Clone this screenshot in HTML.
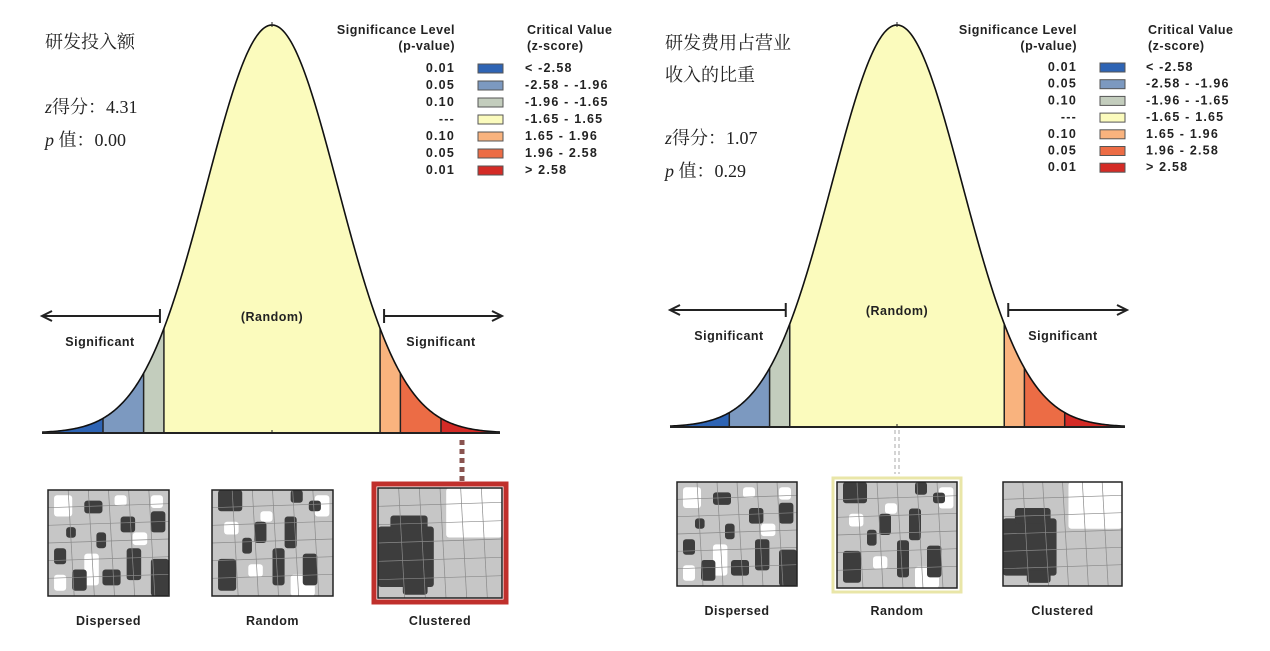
<!DOCTYPE html>
<html><head><meta charset="utf-8">
<style>
html,body{margin:0;padding:0;background:#fff;}
svg{display:block;}
text{font-family:"Liberation Sans","DejaVu Sans",sans-serif;}
.cn{font-family:"Liberation Serif","Noto Serif CJK SC","Noto Sans CJK SC",serif;font-size:18px;fill:#222;}
.b{font-weight:bold;font-size:12.5px;fill:#222;letter-spacing:0.5px;}
.v{letter-spacing:1.2px;}
</style></head>
<body>
<svg id="chart" width="1270" height="651" viewBox="0 0 1270 651"></svg>
<script>
// ---- data ----
const zBreaks = [-2.58, -1.96, -1.65, 1.65, 1.96, 2.58];
const zoneColors = ["#2e64b4", "#7c99c0", "#c3cdbd", "#fbfbbd", "#f9b37e", "#ec6c45", "#d42b26"];
const pLabels = ["0.01", "0.05", "0.10", "---", "0.10", "0.05", "0.01"];
const critLabels = ["< -2.58", "-2.58 - -1.96", "-1.96 - -1.65", "-1.65 - 1.65", " 1.65 - 1.96", " 1.96 - 2.58", " > 2.58"];
const zScores = [4.31, 1.07];
const pValues = ["0.00", "0.29"];
const panelTitles = [["研发投入额"], ["研发费用占营业", "收入的比重"]];
const mapLabels = ["Dispersed", "Random", "Clustered"];

const NS = "http://www.w3.org/2000/svg";
const svg = document.getElementById("chart");
function el(tag, attrs, parent) {
  const e = document.createElementNS(NS, tag);
  for (const k in attrs) e.setAttribute(k, attrs[k]);
  (parent || svg).appendChild(e);
  return e;
}
function pdf(z) { return Math.exp(-z * z / 2); }

const panels = [
  {cx: 272, base: 433, peak: 25, ppu: 65.5, x0: 42, x1: 500, arrowY: 316, sigY: 342, sigL: 100, sigR: 441,
   legX: 455, legY0: 68, legStep: 17, swX: 478, valX: 525, titleX: 45, titleY: [42], zY: 107, pY: 140,
   maps: [[48, 490, 121, 106], [212, 490, 121, 106], [378, 488, 124, 110]], mapLabY: 621, hi: 2, hiColor: "#c0302c", dotX: 462, dotY0: 440, dotY1: 484, dotColor: "#8a5450"},
  {cx: 897, base: 427, peak: 25, ppu: 65, x0: 670, x1: 1125, arrowY: 310, sigY: 336, sigL: 729, sigR: 1063,
   legX: 1077, legY0: 67, legStep: 16.7, swX: 1100, valX: 1146, titleX: 665, titleY: [43, 75], zY: 138, pY: 171,
   maps: [[677, 482, 120, 104], [837, 482, 120, 106], [1003, 482, 119, 104]], mapLabY: 611, hi: 1, hiColor: "#e9e6a8", dotX: 897, dotY0: 430, dotY1: 474, dotColor: "#999"}
];

const mapDark = [
  [[0.3,0.1,0.15,0.12],[0.6,0.25,0.12,0.15],[0.85,0.2,0.12,0.2],[0.05,0.55,0.1,0.15],[0.4,0.4,0.08,0.15],[0.65,0.55,0.12,0.3],[0.2,0.75,0.12,0.2],[0.45,0.75,0.15,0.15],[0.85,0.65,0.15,0.35],[0.15,0.35,0.08,0.1]],
  [[0.05,0,0.2,0.2],[0.65,0,0.1,0.12],[0.8,0.1,0.1,0.1],[0.35,0.3,0.1,0.2],[0.6,0.25,0.1,0.3],[0.05,0.65,0.15,0.3],[0.5,0.55,0.1,0.35],[0.75,0.6,0.12,0.3],[0.25,0.45,0.08,0.15]],
  [[0,0.35,0.45,0.55],[0.1,0.25,0.3,0.15],[0.2,0.85,0.2,0.12]]
];
const mapWhite = [
  [[0.05,0.05,0.15,0.2],[0.85,0.05,0.1,0.12],[0.7,0.4,0.12,0.12],[0.3,0.6,0.12,0.3],[0.05,0.8,0.1,0.15],[0.55,0.05,0.1,0.1]],
  [[0.85,0.05,0.12,0.2],[0.1,0.3,0.12,0.12],[0.4,0.2,0.1,0.1],[0.65,0.8,0.2,0.2],[0.3,0.7,0.12,0.12]],
  [[0.55,0,0.45,0.45]]
];

panels.forEach((P, pi) => {
  const g = el("g", {});
  
  
  const X = z => P.cx + z * P.ppu;
  const Y = z => P.base - (P.base - P.peak) * pdf(z);
  const zMin = (P.x0 - P.cx) / P.ppu, zMax = (P.x1 - P.cx) / P.ppu;
  const edges = [zMin].concat(zBreaks, [zMax]);
  for (let i = 0; i < edges.length - 1; i++) {
    let d = "M" + X(edges[i]) + "," + P.base;
    for (let k = 0; k <= 60; k++) { const z = edges[i] + (edges[i + 1] - edges[i]) * k / 60; d += " L" + X(z).toFixed(2) + "," + Y(z).toFixed(2); }
    d += " L" + X(edges[i + 1]) + "," + P.base + " Z";
    const zone = el("path", {d: d, fill: zoneColors[i], stroke: "none"}, g);
    
    
  }
  zBreaks.forEach((z, i) => {
    const ln = el("line", {x1: X(z), x2: X(z), y1: P.base, y2: Y(z), stroke: "#222", "stroke-width": 1.5}, g);
    
    
  });
  let d = "";
  for (let k = 0; k <= 300; k++) { const z = zMin + (zMax - zMin) * k / 300; d += (k ? " L" : "M") + X(z).toFixed(2) + "," + Y(z).toFixed(2); }
  const curve = el("path", {d: d, fill: "none", stroke: "#111", "stroke-width": 1.6}, g);
  
  
  const base = el("line", {x1: P.x0, x2: P.x1, y1: P.base, y2: P.base, stroke: "#222", "stroke-width": 2}, g);
  
  
  el("line", {x1: P.cx, x2: P.cx, y1: P.base - 3, y2: P.base, stroke: "#222"}, g);
  el("line", {x1: P.cx, x2: P.cx, y1: P.peak - 3, y2: P.peak + 2, stroke: "#222"}, g);
  const xl = X(-1.65) - 4, xr = X(1.65) + 4;
  [[xl, P.x0], [xr, P.x1 + 2]].forEach(([a, b], k) => {
    const ag = el("g", {}, g);
    
    
    el("line", {x1: a, x2: b, y1: P.arrowY, y2: P.arrowY, stroke: "#222", "stroke-width": 2}, ag);
    el("line", {x1: a, x2: a, y1: P.arrowY - 7, y2: P.arrowY + 7, stroke: "#222", "stroke-width": 2}, ag);
    const s = b > a ? -1 : 1;
    el("path", {d: `M${b + s * 10},${P.arrowY - 5} L${b},${P.arrowY} L${b + s * 10},${P.arrowY + 5}`, fill: "none", stroke: "#222", "stroke-width": 2}, ag);
  });
  const t1 = el("text", {x: P.sigL, y: P.sigY + 4, "text-anchor": "middle", class: "b"}, g); t1.textContent = "Significant";
   
  const t2 = el("text", {x: P.sigR, y: P.sigY + 4, "text-anchor": "middle", class: "b"}, g); t2.textContent = "Significant";
   
  const t3 = el("text", {x: P.cx, y: P.arrowY + 5, "text-anchor": "middle", class: "b"}, g); t3.textContent = "(Random)";
   
  P.titleY.forEach((ty, i) => {
    const t = el("text", {x: P.titleX, y: ty + 6, class: "cn"}, g); t.textContent = panelTitles[pi][i];
     
  });
  const zt = el("text", {x: P.titleX, y: P.zY + 6, class: "cn"}, g);
  zt.innerHTML = '<tspan font-style="italic">z</tspan>得分：' + zScores[pi].toFixed(2);
   
  const pt = el("text", {x: P.titleX, y: P.pY + 6, class: "cn"}, g);
  pt.innerHTML = '<tspan font-style="italic">p</tspan> 值：' + pValues[pi];
   
  const lg = el("g", {}, g);
   
  const h1 = el("text", {x: P.legX, y: 34, "text-anchor": "end", class: "b"}, lg); h1.textContent = "Significance Level";
  const h2 = el("text", {x: P.legX, y: 50, "text-anchor": "end", class: "b"}, lg); h2.textContent = "(p-value)";
  const h3 = el("text", {x: P.valX + 2, y: 34, class: "b"}, lg); h3.textContent = "Critical Value";
  const h4 = el("text", {x: P.valX + 2, y: 50, class: "b"}, lg); h4.textContent = "(z-score)";
  pLabels.forEach((p, i) => {
    const y = P.legY0 + i * P.legStep;
    const e = el("g", {}, lg);
     
    const a = el("text", {x: P.legX, y: y + 4, "text-anchor": "end", class: "b v"}, e); a.textContent = p;
    el("rect", {x: P.swX, y: y - 4, width: 25, height: 9, fill: zoneColors[i], stroke: "#555", "stroke-width": 1}, e);
    const c = el("text", {x: P.valX, y: y + 4, class: "b v", "xml:space": "preserve"}, e); c.textContent = critLabels[i];
  });
  const dl = el("line", {x1: P.dotX, x2: P.dotX, y1: P.dotY0, y2: P.dotY1, stroke: P.dotColor, "stroke-width": 5, "stroke-dasharray": "5,4"}, g);
  if (pi) { dl.setAttribute("stroke", "#aaa"); dl.setAttribute("stroke-dasharray", "4,3"); el("line", {x1: P.dotX, x2: P.dotX, y1: P.dotY0, y2: P.dotY1, stroke: "#fff", "stroke-width": 3, "stroke-dasharray": "4,3"}, g); }
   
  P.maps.forEach((m, mi) => {
    const [mx, my, mw, mh] = m;
    const mg = el("g", {}, g);
    
    
    if (mi === P.hi) {
      el("rect", {x: mx - 4, y: my - 4, width: mw + 8, height: mh + 8, fill: "none", stroke: P.hiColor, "stroke-width": pi ? 3 : 5}, mg);
    }
    el("rect", {x: mx, y: my, width: mw, height: mh, fill: "#c6c6c6"}, mg);
    mapWhite[mi].forEach(r => el("rect", {x: mx + r[0] * mw, y: my + r[1] * mh, width: r[2] * mw, height: r[3] * mh, fill: "#fff", rx: 3}, mg));
    mapDark[mi].forEach(r => el("rect", {x: mx + r[0] * mw, y: my + r[1] * mh, width: r[2] * mw, height: r[3] * mh, fill: "#3d3d3d", rx: 3}, mg));
    for (let k = 1; k < 6; k++) {
      el("line", {x1: mx + k * mw / 6, x2: mx + k * mw / 6 + 6, y1: my, y2: my + mh, stroke: "#8a8a8a", "stroke-width": 0.7}, mg);
      el("line", {x1: mx, x2: mx + mw, y1: my + k * mh / 6, y2: my + k * mh / 6 - 4, stroke: "#8a8a8a", "stroke-width": 0.7}, mg);
    }
    el("rect", {x: mx, y: my, width: mw, height: mh, fill: "none", stroke: "#222", "stroke-width": 1.5}, mg);
    const lt = el("text", {x: mx + mw / 2, y: P.mapLabY + 4, "text-anchor": "middle", class: "b"}, mg);
    lt.textContent = mapLabels[mi];
  });
});
</script>
</body></html>
